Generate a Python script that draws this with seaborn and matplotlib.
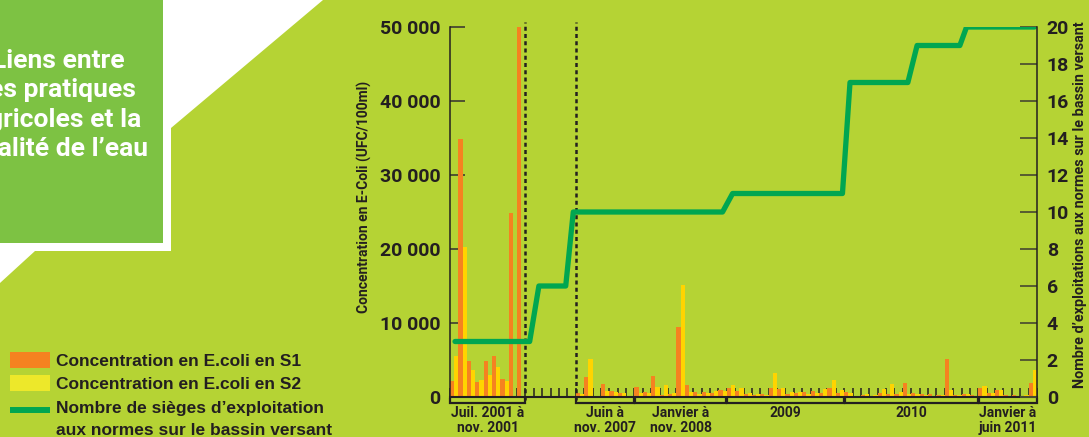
import matplotlib
matplotlib.use('Agg')
import matplotlib.pyplot as plt
from matplotlib.patches import Polygon, Rectangle
from matplotlib.lines import Line2D
import matplotlib.transforms as mtransforms
import numpy as np
import pandas as pd
import seaborn as sns

# --- données (un intervalle = un prélèvement) ---
s1_values = [2100, 34900, 4900, 2000, 4800, 5500, 2400, 24800, 50000,   # juil.-nov. 2001
             0, 0, 0, 0, 0, 0,                                            # pas de mesures
             600, 2700, 0, 1800, 800, 600, 0,                             # juin-nov. 2007
             1400, 700, 2900, 300, 400, 9400, 1600, 700, 700, 600, 900,   # 2008
             1260, 810, 360, 270, 360, 1170, 1035, 400, 585, 720, 810, 585, 1260, 500,  # 2009
             675, 0, 270, 135, 585, 400, 400, 1950, 585, 360, 400, 270, 5130, 270, 400, 270,  # 2010
             1170, 585, 945, 270, 270, 200, 1935]                         # 2011
s2_values = [5500, 20300, 3700, 2300, 3000, 4100, 2100, 0, 0,
             0, 0, 0, 0, 0, 0,
             400, 5100, 0, 800, 700, 500, 0,
             500, 500, 1400, 1600, 600, 15100, 700, 400, 500, 800, 800,
             1620, 1170, 500, 400, 270, 3285, 1170, 720, 720, 400, 500, 1035, 2300, 945,
             540, 0, 400, 270, 1035, 1755, 630, 400, 400, 270, 180, 270, 945, 270, 400, 200,
             1485, 500, 945, 180, 180, 270, 3645]

# nombre de sièges aux normes (position en nb d'intervalles, valeur)
green_pos = [0.6, 9.5, 10.6, 13.8, 14.7, 32.5, 33.7, 46.8, 47.7, 54.6, 55.7, 60.8, 61.6, 69.7]
green_val = [3, 3, 6, 6, 10, 10, 11, 11, 17, 17, 19, 19, 20, 20]

# périodes (début, fin en intervalles) et libellés
periods = [(0, 9), (15, 22), (22, 33), (33, 47), (47, 63), (63, 70)]
period_labels = ["Juil. 2001 à\nnov. 2001", "Juin à\nnov. 2007", "Janvier à\nnov. 2008",
                 "2009", "2010", "Janvier à\njuin 2011"]
dashed_pos = [9, 15]

y_ticks = [0, 10000, 20000, 30000, 40000, 50000]
y_labels = ["0", "10 000", "20 000", "30 000", "40 000", "50 000"]
y2_ticks = [0, 2, 4, 6, 8, 10, 12, 14, 16, 18, 20]

title_lines = ["Liens entre", "les pratiques", "agricoles et la", "qualité de l’eau"]
legend_labels = ["Concentration en E.coli en S1", "Concentration en E.coli en S2",
                 "Nombre de sièges d’exploitation\naux normes sur le bassin versant"]

# couleurs
BG = '#B5D334'
BOX = '#7DC243'
ORANGE = '#F58220'
YELLOW = '#FFD400'
YELLOW_LEG = '#EDE82A'
GREEN = '#00A651'
DARK = '#231F20'
TICK = '#4F5230'

sns.set_style("ticks")
plt.rcParams['font.family'] = ['Roboto', 'DejaVu Sans']
plt.rcParams['font.weight'] = 'bold'
plt.rcParams['axes.labelweight'] = 'bold'

W, H = 1089, 437
fig = plt.figure(figsize=(W / 100, H / 100), dpi=100)
fig.patch.set_facecolor('white')


def px(x, y):
    # pixels (origine en haut à gauche) -> fraction de figure
    return (x / W, 1 - y / H)


# fond : polygone vert-jaune et encadré vert (sous les axes)
bg_pts = [px(0, 283), px(35, 251), px(171, 251), px(171, 128), px(323, 0),
          px(W, 0), px(W, H), px(0, H)]
fig.patches.append(Polygon(bg_pts, closed=True, transform=fig.transFigure,
                           facecolor=BG, edgecolor='none', zorder=-2))
fig.patches.append(Rectangle(px(0, 243), 163 / W, 243 / H, transform=fig.transFigure,
                             facecolor=BOX, edgecolor='none', zorder=-2))

# titre (coupé à gauche comme sur l'original)
for txt, xr, yb in zip(title_lines, [125, 136, 141, 148], [68, 97, 127, 156]):
    fig.text(*px(xr, yb), txt, color='white', fontsize=19, fontweight='bold',
             ha='right', va='baseline')

ax = fig.add_axes([450 / W, 1 - 397 / H, 587 / W, 370 / H])
ax.set_facecolor('none')

n = len(s1_values)
df = pd.DataFrame({
    'idx': list(range(n)) * 2,
    'value': s1_values + s2_values,
    'serie': ['S1'] * n + ['S2'] * n,
})
sns.barplot(data=df, x='idx', y='value', hue='serie', palette=[ORANGE, YELLOW],
            width=1.0, dodge=True, errorbar=None, legend=False, saturation=1,
            linewidth=0, ax=ax)

ax.set_ylim(0, 50000)
ax.set_yticks(y_ticks)
ax.set_yticklabels(y_labels)
ax.set_xticks(np.arange(n + 1) - 0.5)
ax.set_xticklabels([])
ax.tick_params(axis='x', direction='in', length=6.5, width=1.1, color=DARK)
ax.tick_params(axis='y', direction='in', length=11, width=1.4, color=TICK,
               pad=7, labelsize=14, labelcolor=DARK)
ax.set_xlabel('')
ax.set_ylabel('Concentration en E-Coli (UFC/100ml)', fontsize=10, color=DARK)
ax.yaxis.set_label_coords(-0.133, 0.54)
for side in ['top', 'right']:
    ax.spines[side].set_visible(False)
ax.spines['left'].set_color(DARK)
ax.spines['left'].set_linewidth(1.1)
ax.spines['bottom'].set_color(DARK)
ax.spines['bottom'].set_linewidth(1.5)

# lignes pointillées
for p in dashed_pos:
    ax.axvline(p - 0.5, ymin=-0.008, ymax=1.013, clip_on=False, color=DARK,
               lw=1.8, ls=(0, (1.6, 1.3)), zorder=3)

# accolades et libellés de périodes
trans = mtransforms.blended_transform_factory(ax.transData, ax.transAxes)
for (b0, b1), lab in zip(periods, period_labels):
    x0, x1 = b0 - 0.5 + 0.05, b1 - 0.5 - 0.05
    ax.plot([x0, x0, x1, x1], [-0.003, -0.016, -0.016, -0.003], transform=trans,
            color=DARK, lw=1.6, clip_on=False, solid_joinstyle='miter')
    ax.text((b0 + b1) / 2 - 0.5, -0.025, lab, transform=trans, ha='center', va='top',
            fontsize=10, color=DARK, linespacing=1.05)

# axe secondaire
ax2 = ax.twinx()
ax2.set_facecolor('none')
sns.lineplot(x=[p - 0.5 for p in green_pos], y=green_val, sort=False, estimator=None,
             color=GREEN, linewidth=3.8, ax=ax2)
ax2.set_ylim(0, 20)
ax2.set_yticks(y2_ticks)
ax2.tick_params(axis='y', direction='in', length=12, width=1.3, color=TICK,
                pad=7, labelsize=14, labelcolor=DARK)
ax2.set_ylabel('Nombre d’exploitations aux normes sur le bassin versant',
               fontsize=10.4, color=DARK, rotation=90)
ax2.yaxis.set_label_coords(1.061, 0.52)
for side in ['top', 'left', 'bottom']:
    ax2.spines[side].set_visible(False)
ax2.spines['right'].set_color(DARK)
ax2.spines['right'].set_linewidth(1.1)
ax.set_xlim(-0.5, n - 0.5)

# légende
leg_font = ['Liberation Sans', 'DejaVu Sans']
fig.patches.append(Rectangle(px(10, 368), 40 / W, 16 / H, transform=fig.transFigure,
                             facecolor=ORANGE, edgecolor='none'))
fig.patches.append(Rectangle(px(10, 391), 40 / W, 16 / H, transform=fig.transFigure,
                             facecolor=YELLOW_LEG, edgecolor='none'))
fig.add_artist(Line2D([10 / W, 50 / W], [1 - 410 / H] * 2, transform=fig.transFigure,
                      color=GREEN, lw=4.3, solid_capstyle='butt'))
leg_lines = [line for lab in legend_labels for line in lab.split('\n')]
for line, yb in zip(leg_lines, [366, 389, 413, 435]):
    fig.text(*px(56, yb), line, family=leg_font, fontsize=12.5, fontweight='bold',
             color=DARK, va='baseline', ha='left')

plt.savefig('out.png', dpi=100, facecolor=fig.get_facecolor())
